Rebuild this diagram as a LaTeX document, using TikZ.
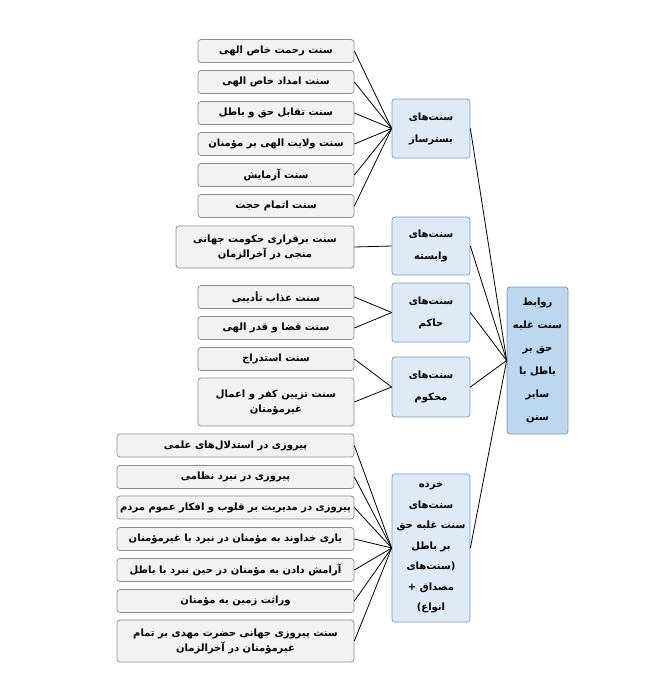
\documentclass[tikz,border=0pt]{standalone}
\usepackage{fontspec}
\newfontfamily\fafont[Script=Arabic]{DejaVu Sans}
\newfontfamily\lafont{DejaVu Sans}
\TeXXeTstate=1
\newcommand\rl[1]{\beginR #1\endR}
\definecolor{leaffill}{HTML}{F2F2F2}
\definecolor{leafborder}{HTML}{8C8C8C}
\definecolor{midfill}{HTML}{DEEBF7}
\definecolor{midborder}{HTML}{8497B0}
\definecolor{rootfill}{HTML}{BDD7EE}
\definecolor{rootborder}{HTML}{7F8FA6}
\tikzset{
  basebox/.style={rounded corners=3pt, line width=0.7pt, inner sep=0pt, align=center,
    font=\fafont\bfseries\fontsize{10}{15}\selectfont},
  leaf/.style={basebox, draw=leafborder, fill=leaffill, minimum height=23pt},
  midbox/.style={basebox, draw=midborder, fill=midfill, minimum width=78pt, font=\fafont\bfseries\fontsize{10}{22}\selectfont},
  rootbox/.style={basebox, draw=rootborder, fill=rootfill, minimum width=61pt, minimum height=147pt, font=\fafont\bfseries\fontsize{10}{23}\selectfont},
  conn/.style={draw=black, line width=0.8pt}
}
\begin{document}
\begin{tikzpicture}[x=1pt,y=-1pt]
\useasboundingbox (0,0) rectangle (671,696);
% middle nodes
\node[midbox, minimum height=59pt] (m1) at (431,128.5) {\rl{سنت‌های}\\\rl{بسترساز}};
\node[midbox, minimum height=58pt] (m2) at (431,246) {\rl{سنت‌های}\\\rl{وابسته}};
\node[midbox, minimum height=59pt] (m3) at (431,312.5) {\rl{سنت‌های}\\\rl{حاکم}};
\node[midbox, minimum height=60pt] (m4) at (431,387) {\rl{سنت‌های}\\\rl{محکوم}};
\node[midbox, minimum height=148pt, font=\fafont\bfseries\fontsize{10}{20.5}\selectfont] (m5) at (431,548) {\rl{خرده}\\\rl{سنت‌های}\\\rl{سنت غلبه حق}\\\rl{بر باطل}\\\hbox{\rl{سنت‌های}}\hbox{\lafont)}\\\rl{مصداق +}\\\hbox{\lafont(}\hbox{\rl{انواع}}};
% root
\node[rootbox] (r) at (537.5,360.5) {\rl{روابط}\\\rl{سنت غلبه}\\\rl{حق بر}\\\rl{باطل با}\\\rl{سایر}\\\rl{سنن}};
% group A
\node[leaf, minimum width=156pt] (a1) at (276,51) {\rl{سنت رحمت خاص الهی}};
\node[leaf, minimum width=156pt] (a2) at (276,82) {\rl{سنت امداد خاص الهی}};
\node[leaf, minimum width=156pt] (a3) at (276,113) {\rl{سنت تقابل حق و باطل}};
\node[leaf, minimum width=156pt] (a4) at (276,144) {\rl{سنت ولایت الهی بر مؤمنان}};
\node[leaf, minimum width=156pt] (a5) at (276,175) {\rl{سنت آزمایش}};
\node[leaf, minimum width=156pt] (a6) at (276,206) {\rl{سنت اتمام حجت}};
\node[leaf, minimum width=178pt, minimum height=42pt] (a7) at (265,247) {\rl{سنت برقراری حکومت جهانی}\\\rl{منجی در آخرالزمان}};
% group B
\node[leaf, minimum width=156pt] (b1) at (276,297) {\rl{سنت عذاب تأدیبی}};
\node[leaf, minimum width=156pt] (b2) at (276,328) {\rl{سنت قضا و قدر الهی}};
% group C
\node[leaf, minimum width=156pt] (c1) at (276,359) {\rl{سنت استدراج}};
\node[leaf, minimum width=156pt, minimum height=48pt] (c2) at (276,402) {\rl{سنت تزیین کفر و اعمال}\\\rl{غیرمؤمنان}};
% group D
\node[leaf, minimum width=237pt] (d1) at (235.5,445.5) {\rl{پیروزی در استدلال‌های علمی}};
\node[leaf, minimum width=237pt] (d2) at (235.5,477) {\rl{پیروزی در نبرد نظامی}};
\node[leaf, minimum width=237pt] (d3) at (235.5,507.5) {\rl{پیروزی در مدیریت بر قلوب و افکار عموم مردم}};
\node[leaf, minimum width=237pt] (d4) at (235.5,539) {\rl{یاری خداوند به مؤمنان در نبرد با غیرمؤمنان}};
\node[leaf, minimum width=237pt] (d5) at (235.5,570) {\rl{آرامش دادن به مؤمنان در حین نبرد با باطل}};
\node[leaf, minimum width=237pt] (d6) at (235.5,601) {\rl{وراثت زمین به مؤمنان}};
\node[leaf, minimum width=237pt, minimum height=42pt] (d7) at (235.5,641) {\rl{سنت پیروزی جهانی حضرت مهدی بر تمام}\\\rl{غیرمؤمنان در آخرالزمان}};
% connectors
\foreach \n in {a1,a2,a3,a4,a5,a6} \draw[conn] (\n.east) -- (m1.west);
\draw[conn] (a7.east) -- (m2.west);
\foreach \n in {b1,b2} \draw[conn] (\n.east) -- (m3.west);
\foreach \n in {c1,c2} \draw[conn] (\n.east) -- (m4.west);
\foreach \n in {d1,d2,d3,d4,d5,d6,d7} \draw[conn] (\n.east) -- (m5.west);
\foreach \n in {m1,m2,m3,m4,m5} \draw[conn] (\n.east) -- (r.west);
\end{tikzpicture}
\end{document}
